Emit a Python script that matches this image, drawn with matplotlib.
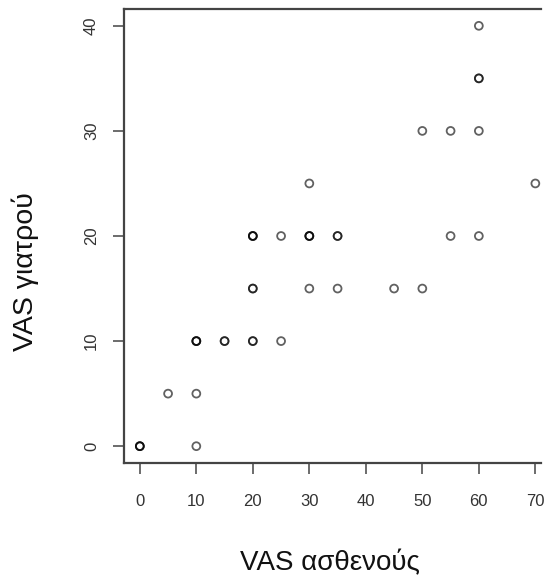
import numpy as np
import matplotlib
matplotlib.use("Agg")
import matplotlib.pyplot as plt

# VAS scores (repeated pairs = overplotted points)
vas_patient = [0, 0, 0, 5, 10, 10, 10, 10, 10, 15, 15,
               20, 20, 20, 20, 20, 20, 20, 25, 25,
               30, 30, 30, 30, 30, 35, 35, 35,
               45, 50, 50, 55, 55, 60, 60, 60, 60, 60, 70]
vas_doctor = [0, 0, 0, 5, 0, 5, 10, 10, 10, 10, 10,
              10, 10, 15, 15, 20, 20, 20, 10, 20,
              15, 20, 20, 20, 25, 15, 20, 20,
              15, 15, 30, 20, 30, 20, 30, 35, 35, 40, 25]

x_ticks = [0, 10, 20, 30, 40, 50, 60, 70]
y_ticks = [0, 10, 20, 30, 40]

plt.rcParams['font.family'] = ['Liberation Sans', 'DejaVu Sans']

fig = plt.figure(figsize=(5.46, 5.84), dpi=100)
ax = fig.add_axes([124 / 546, 1 - 463 / 584, 417 / 546, 454 / 584])

ax.scatter(vas_patient, vas_doctor, s=32, facecolors="none",
           edgecolors=(0, 0, 0, 0.62), linewidths=1.3)

ax.set_xlim(-2.8, 71.0)
ax.set_ylim(-1.6, 41.6)
ax.set_xticks(x_ticks)
ax.set_yticks(y_ticks)
ax.tick_params(axis="both", length=8, width=1.1, color="#444444",
               labelsize=12, labelcolor="#333333")
ax.tick_params(axis="x", pad=14)
ax.tick_params(axis="y", pad=10)
for lab in ax.get_yticklabels():
    lab.set_rotation(90)
    lab.set_va("center")

for side in ["left", "top", "bottom"]:
    ax.spines[side].set_color("#444444")
    ax.spines[side].set_linewidth(1.6)
ax.spines["right"].set_visible(False)

fig.text(330 / 546, 1 - 563 / 584, "VAS ασθενούς", fontsize=20,
         ha="center", va="center", color="#111111")
fig.text(25 / 546, 1 - 272 / 584, "VAS γιατρού", fontsize=20.5,
         ha="center", va="center", rotation=90, color="#111111")

plt.savefig("out.png", dpi=100)
